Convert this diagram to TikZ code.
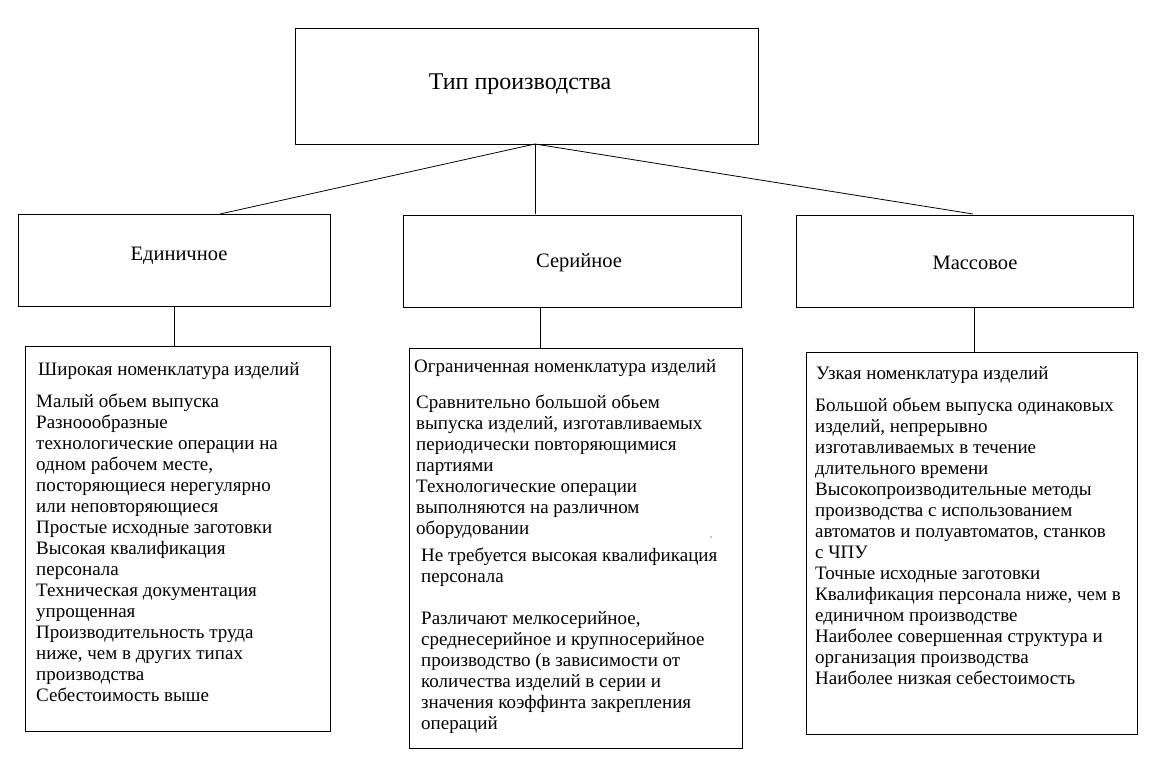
\documentclass[tikz,border=0pt]{standalone}
\usepackage{fontspec}
\setmainfont{Liberation Serif}
\begin{document}
\begin{tikzpicture}[x=1pt,y=-1pt,
  box/.style={draw,line width=0.9pt,rectangle,inner sep=0pt,anchor=north west},
  ttl/.style={font=\fontsize{20.5}{24}\selectfont,inner sep=0pt},
  body/.style={font=\fontsize{19}{21}\selectfont,inner sep=0pt,anchor=base west,align=left},
  conn/.style={line width=0.8pt}]
\useasboundingbox (0,0) rectangle (1154,759);
\fill[white] (0,0) rectangle (1154,759);
% top
\node[box,minimum width=463pt,minimum height=116pt] (top) at (295,28) {};
\node[ttl,font=\fontsize{24}{28}\selectfont] (toptxt) at (520,84) {Тип производства};
% second row
\node[box,minimum width=312pt,minimum height=92pt] (b1) at (18,214) {};
\node[box,minimum width=338pt,minimum height=92pt] (b2) at (403,215) {};
\node[box,minimum width=337pt,minimum height=92pt] (b3) at (796,215) {};
\node[ttl] (t1) at (179,256) {Единичное};
\node[ttl] (t2) at (579,263) {Серийное};
\node[ttl] (t3) at (975,263) {Массовое};
% detail boxes
\node[box,minimum width=305pt,minimum height=385pt] (d1) at (25,346) {};
\node[box,minimum width=333pt,minimum height=400pt] (d2) at (409,348) {};
\node[box,minimum width=331pt,minimum height=382pt] (d3) at (806,352) {};
% connectors
\coordinate (hub) at (535,144);
\coordinate (e1) at (220,214);
\coordinate (e2) at (535,214);
\coordinate (e3) at (973,214);
\draw[conn] (hub) -- (e1);
\draw[conn] (hub) -- (e2);
\draw[conn] (hub) -- (e3);
\coordinate (s1) at (174,306);
\coordinate (s2) at (540,307);
\coordinate (s3) at (974,307);
\draw[conn] (s1) -- (s1 |- d1.north);
\draw[conn] (s2) -- (s2 |- d2.north);
\draw[conn] (s3) -- (s3 |- d3.north);
% texts box 1 (anchor = baseline of last line)
\node[body] (h1) at (38,375) {Широкая номенклатура изделий};
\node[body] (x1) at (36,701) {Малый обьем выпуска\\Разноообразные\\технологические операции на\\одном рабочем месте,\\посторяющиеся нерегулярно\\или неповторяющиеся\\Простые исходные заготовки\\Высокая квалификация\\персонала\\Техническая документация\\упрощенная\\Производительность труда\\ниже, чем в других типах\\производства\\Себестоимость выше};
% texts box 2
\node[body] (h2) at (414,372) {Ограниченная номенклатура изделий};
\node[body] (x2) at (416,534) {Сравнительно большой обьем\\выпуска изделий, изготавливаемых\\периодически повторяющимися\\партиями\\Технологические операции\\выполняются на различном\\оборудовании};
\fill (711,537) circle (0.7pt);
\node[body] (y2) at (421,729) {Не требуется высокая квалификация\\персонала\\[21pt]Различают мелкосерийное,\\среднесерийное и крупносерийное\\производство (в зависимости от\\количества изделий в серии и\\значения коэффинта закрепления\\операций};
% texts box 3
\node[body] (h3) at (816,379) {Узкая номенклатура изделий};
\node[body] (x3) at (815,684) {Большой обьем выпуска одинаковых\\изделий, непрерывно\\изготавливаемых в течение\\длительного времени\\Высокопроизводительные методы\\производства с использованием\\автоматов и полуавтоматов, станков\\с ЧПУ\\Точные исходные заготовки\\Квалификация персонала ниже, чем в\\единичном производстве\\Наиболее совершенная структура и\\организация производства\\Наиболее низкая себестоимость};
\end{tikzpicture}
\end{document}
